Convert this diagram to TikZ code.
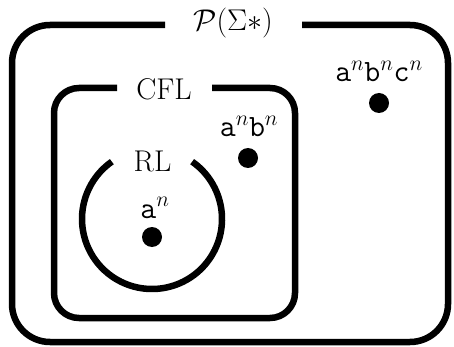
\RequirePackage{fix-cm}
\documentclass[tikz,border=0pt]{standalone}
\usepackage{fontspec}
\begin{document}
\begin{tikzpicture}[x=1pt,y=-1pt,
  setline/.style={line width=6.5pt,rounded corners=#1},
  lbl/.style={font=\fontsize{30}{34}\selectfont,inner sep=0pt},
  elem/.style={font=\fontsize{31}{34}\selectfont\ttfamily,inner sep=0pt},
  dotpt/.style={circle,fill=black,minimum size=20pt,inner sep=0pt}]
\useasboundingbox (0,0) rectangle (454,347);
% outer
\node[lbl] (P) at (233,23) {$\mathcal{P}(\Sigma{*})$};
\coordinate (pl) at (165,25);
\coordinate (pr) at (302,25);
\draw[setline=38pt] (pr) -- (448,25) -- (448,342) -- (12,342) -- (12,25) -- (pl);
% CFL
\node[lbl] (C) at (164,89) {CFL};
\coordinate (cl) at (117,88);
\coordinate (cr) at (212,88);
\draw[setline=25pt] (cr) -- (295,88) -- (295,318) -- (54,318) -- (54,88) -- (cl);
% RL
\node[lbl] (R) at (152.5,161.5) {RL};
\coordinate (rc) at (152,219);
\draw[line width=6.5pt] ([shift={(-55:70)}]rc) arc[start angle=-55,end angle=235,radius=70];
% elements
\node[dotpt] (d1) at (152,237) {};
\node[elem,anchor=base] (l1) at (155,218) {a$^n$};
\node[dotpt] (d2) at (248,158) {};
\node[elem,anchor=base] (l2) at (249,137) {a$^n$b$^n$};
\node[dotpt] (d3) at (379,103) {};
\node[elem,anchor=base] (l3) at (379,82) {a$^n$b$^n$c$^n$};
\end{tikzpicture}
\end{document}
